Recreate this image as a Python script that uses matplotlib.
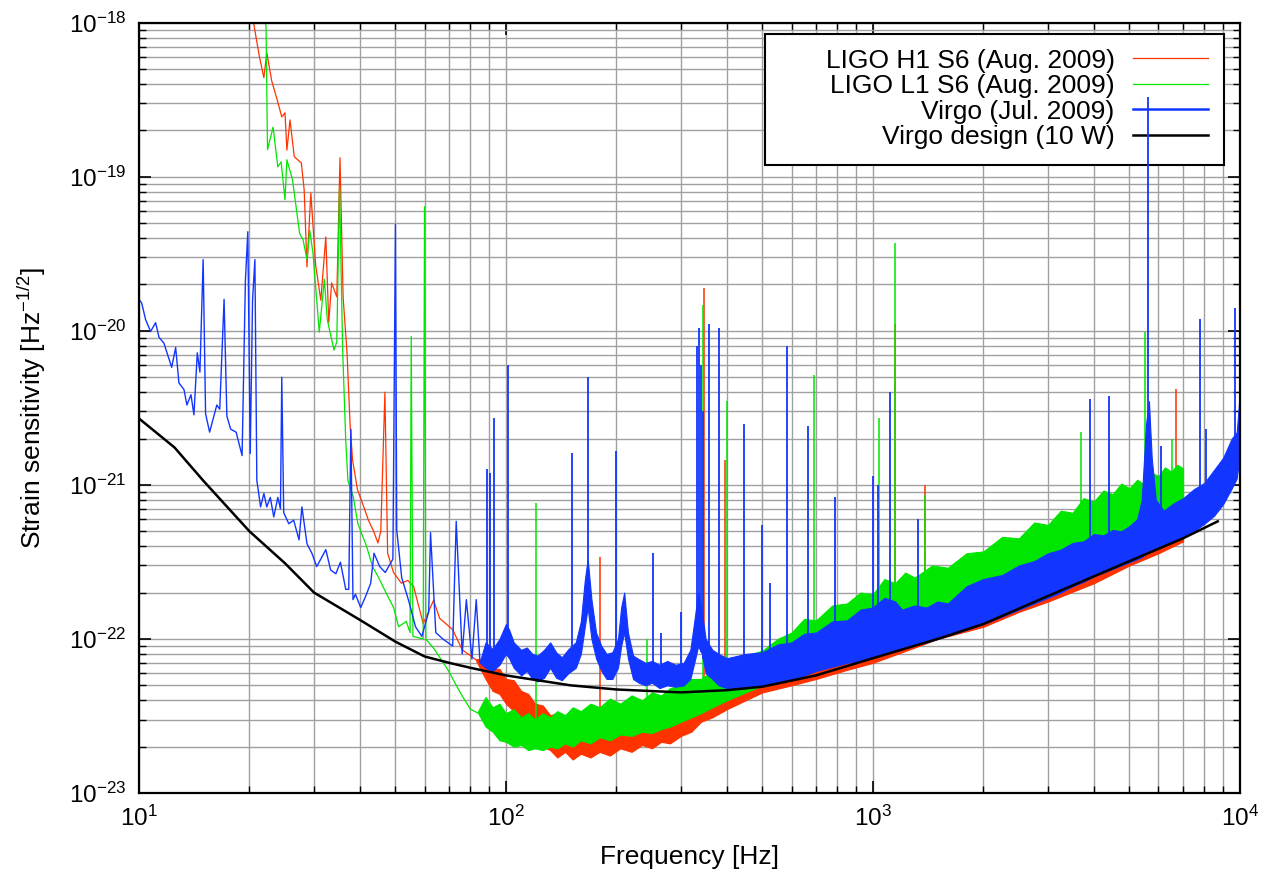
#import module#
import numpy as np
import matplotlib
matplotlib.use("Agg")
import matplotlib.pyplot as plt
from matplotlib.lines import Line2D
from matplotlib.patches import Rectangle

plt.rcParams['font.family'] = ['Liberation Sans', 'DejaVu Sans']
plt.rcParams['mathtext.fontset'] = 'custom'
plt.rcParams['mathtext.rm'] = 'Liberation Sans'
plt.rcParams['mathtext.it'] = 'Liberation Sans:italic'
plt.rcParams['mathtext.bf'] = 'Liberation Sans:bold'

#data#
# LIGO H1, low frequency part (Hz, strain)
h1_f = [20.2, 20.6, 21.3, 21.9, 22.3, 23.0, 23.8, 24.5, 25.0, 25.3, 25.8, 26.5, 27.7, 28.2, 28.7,
        29.4, 30.3, 31.3, 32.3, 32.9, 33.5, 34.6, 35.3, 36.0, 36.9, 37.6, 38.2, 39.4, 40.9, 42.2,
        43.6, 44.8, 45.6, 46.8, 47.6, 49.4, 51.9, 54.0, 56.0, 59.5, 63.5, 66.0, 71.6, 76.0, 80.0, 83.0]
h1_h = [1.3e-18, 9.5e-19, 6.0e-19, 4.4e-19, 6.4e-19, 4.2e-19, 3.16e-19, 2.45e-19, 2.6e-19, 1.49e-19,
        2.34e-19, 1.35e-19, 1.23e-19, 8.2e-20, 2.6e-20, 7.85e-20, 2.68e-20, 1.58e-20, 4.07e-20, 1.13e-20,
        2.05e-20, 1.66e-20, 1.33e-19, 1.66e-20, 7.2e-21, 2.5e-21, 1.45e-21, 9.3e-22, 7.3e-22, 5.9e-22,
        5.0e-22, 4.2e-22, 5.0e-22, 4.0e-21, 3.6e-22, 2.7e-22, 2.3e-22, 2.4e-22, 2.2e-22, 1.26e-22,
        1.78e-22, 1.36e-22, 1.15e-22, 8.5e-23, 7.8e-23, 7.3e-23]
# LIGO H1 noise band (lower / upper edge)
h1_band_f = [83, 88, 92, 96, 100, 105, 110, 115, 120, 126, 132, 138, 145, 152, 160, 170, 180, 192,
             205, 220, 235, 250, 265, 280, 300, 320, 340, 365, 400, 450, 500, 600, 700, 850, 1000,
             1250, 1500, 2000, 2500, 3000, 4000, 5000, 6000, 7000]
h1_band_lo = [7.2e-23, 5.5e-23, 4.6e-23, 4.4e-23, 3.8e-23, 3.4e-23, 3.0e-23, 2.5e-23, 2.4e-23, 2.0e-23,
              1.9e-23, 1.7e-23, 1.85e-23, 1.65e-23, 1.8e-23, 1.7e-23, 1.85e-23, 1.75e-23, 1.95e-23,
              1.85e-23, 2.05e-23, 1.95e-23, 2.15e-23, 2.1e-23, 2.35e-23, 2.5e-23, 2.9e-23, 3.1e-23,
              3.5e-23, 4.0e-23, 4.5e-23, 5.0e-23, 5.5e-23, 6.3e-23, 7.0e-23, 8.5e-23, 1.0e-22, 1.2e-22,
              1.5e-22, 1.75e-22, 2.3e-22, 3.0e-22, 3.6e-22, 4.3e-22]
h1_band_hi = [7.4e-23, 7.4e-23, 6.4e-23, 6.4e-23, 5.5e-23, 5.4e-23, 4.6e-23, 4.4e-23, 3.8e-23, 3.7e-23,
              3.2e-23, 3.3e-23, 2.9e-23, 3.1e-23, 2.8e-23, 3.2e-23, 2.9e-23, 3.3e-23, 3.0e-23, 3.4e-23,
              3.1e-23, 3.5e-23, 3.3e-23, 3.8e-23, 3.9e-23, 4.6e-23, 4.8e-23, 5.6e-23, 6.0e-23, 6.5e-23,
              7.0e-23, 8.0e-23, 9.0e-23, 1.05e-22, 1.2e-22, 1.4e-22, 1.6e-22, 2.1e-22, 2.6e-22, 3.1e-22,
              4.0e-22, 5.0e-22, 6.0e-22, 7.0e-22]
h1_spk_f = [180, 346, 395, 1145, 1390, 6700]
h1_spk_h = [3.4e-22, 1.9e-20, 1.45e-21, 1.1e-20, 1.0e-21, 4.2e-21]

# LIGO L1
l1_f = [21.8, 22.2, 22.4, 23.2, 23.9, 24.4, 25.0, 25.3, 26.2, 27.4, 28.0, 28.7, 29.2, 29.8, 31.0,
        32.0, 32.6, 34.0, 34.6, 35.2, 35.9, 36.6, 37.1, 38.4, 39.5, 41.7, 43.3, 45.0, 47.1, 49.4,
        51.0, 53.5, 54.8, 55.2, 55.8, 59.5, 60.0, 60.5, 64.0, 69.5, 75.0, 80.0, 84.0]
l1_h = [1.3e-18, 9.4e-19, 1.5e-19, 2.1e-19, 1.16e-19, 1.25e-19, 7.1e-20, 1.29e-19, 9.6e-20, 4.3e-20,
        3.9e-20, 2.9e-20, 4.5e-20, 3.2e-20, 9.8e-21, 2.16e-20, 1.18e-20, 7.5e-21, 8.5e-21, 8.6e-20,
        7.5e-21, 1.94e-21, 1.07e-21, 8.3e-22, 5.6e-22, 4.0e-22, 2.95e-22, 2.5e-22, 2.0e-22, 1.6e-22,
        1.2e-22, 1.3e-22, 1.1e-22, 9.2e-21, 1.04e-22, 1.0e-22, 6.4e-20, 1.0e-22, 8.5e-23, 6.3e-23,
        4.5e-23, 3.5e-23, 3.3e-23]
l1_band_f = [84, 88, 92, 96, 100, 105, 110, 115, 120, 126, 132, 138, 145, 152, 160, 170, 180, 192,
             205, 220, 235, 250, 265, 280, 300, 320, 340, 365, 400, 450, 500, 550, 600, 650, 700, 775,
             850, 925, 1000, 1075, 1150, 1225, 1300, 1450, 1600, 1800, 2000, 2250, 2500, 2750, 3000,
             3250, 3500, 3750, 4000, 4250, 4500, 4750, 5000, 5250, 5500, 5750, 6000, 6250, 6500, 6750,
             7000]
l1_band_lo = [3.3e-23, 2.7e-23, 2.5e-23, 2.2e-23, 2.15e-23, 2.0e-23, 2.05e-23, 1.9e-23, 1.95e-23, 1.9e-23,
              2.0e-23, 1.95e-23, 2.1e-23, 2.0e-23, 2.2e-23, 2.1e-23, 2.3e-23, 2.2e-23, 2.4e-23, 2.35e-23,
              2.5e-23, 2.45e-23, 2.6e-23, 2.7e-23, 2.9e-23, 3.1e-23, 3.3e-23, 3.6e-23, 4.0e-23, 4.5e-23,
              5.0e-23, 5.4e-23, 5.8e-23, 6.1e-23, 6.5e-23, 7.0e-23, 7.5e-23, 8.0e-23, 8.5e-23, 9.0e-23,
              9.5e-23, 1.0e-22, 1.05e-22, 1.15e-22, 1.25e-22, 1.4e-22, 1.6e-22, 1.8e-22, 2.0e-22, 2.2e-22,
              2.4e-22, 2.6e-22, 2.8e-22, 3.0e-22, 3.2e-22, 3.4e-22, 3.6e-22, 3.8e-22, 4.0e-22, 4.2e-22,
              4.5e-22, 4.7e-22, 5.0e-22, 5.2e-22, 5.5e-22, 5.8e-22, 6.0e-22]
l1_band_hi = [3.4e-23, 4.2e-23, 3.6e-23, 3.8e-23, 3.3e-23, 3.5e-23, 3.1e-23, 3.3e-23, 3.0e-23, 3.3e-23,
              3.1e-23, 3.4e-23, 3.2e-23, 3.6e-23, 3.4e-23, 3.8e-23, 3.6e-23, 4.1e-23, 3.8e-23, 4.3e-23,
              4.0e-23, 4.5e-23, 4.3e-23, 4.8e-23, 5.0e-23, 5.5e-23, 5.5e-23, 6.2e-23, 6.5e-23, 7.8e-23,
              8.4e-23, 1.0e-22, 1.1e-22, 1.35e-22, 1.32e-22, 1.65e-22, 1.7e-22, 2.0e-22, 1.95e-22, 2.45e-22,
              2.3e-22, 2.7e-22, 2.5e-22, 3.0e-22, 2.9e-22, 3.6e-22, 3.7e-22, 4.6e-22, 4.5e-22, 5.7e-22,
              5.5e-22, 6.8e-22, 6.6e-22, 8.2e-22, 7.8e-22, 9.2e-22, 8.7e-22, 1.02e-21, 9.5e-22, 1.08e-21,
              1.0e-21, 1.2e-21, 1.14e-21, 1.3e-21, 1.22e-21, 1.35e-21, 1.28e-21]
l1_spk_f = [121, 242, 345, 400, 690, 1040, 1150, 1390, 3700, 5500, 6550]
l1_spk_h = [7.6e-22, 1.0e-22, 1.47e-20, 3.5e-21, 5.2e-21, 2.7e-21, 3.7e-20, 8.6e-22, 2.2e-21, 9.8e-21, 2.0e-21]

# Virgo Jul. 2009
v_f = [10.0, 10.17, 10.43, 10.76, 11.1, 11.34, 11.7, 12.28, 12.59, 12.85, 13.27, 13.51, 13.86, 14.12,
       14.42, 14.66, 14.96, 15.19, 15.58, 16.3, 16.6, 17.06, 17.36, 17.78, 18.4, 19.1, 19.5, 19.8, 20.1,
       20.4, 20.7, 20.95, 21.2, 21.45, 21.9, 22.3, 22.8, 23.3, 23.9, 24.3, 24.5, 24.8, 25.6, 26.4, 27.3,
       27.8, 28.7, 29.6, 30.5, 31.3, 32.3, 33.3, 34.4, 35.4, 36.6, 37.3, 37.8, 38.3, 38.9, 40.2, 41.5,
       42.8, 43.7, 45.3, 46.9, 49.2, 50.0, 50.4, 52.0, 54.4, 56.7, 59.0, 61.6, 62.3, 64.4, 67.3, 71.6,
       73.2, 76.0, 78.0, 80.8, 83.0, 85.0]
v_h = [1.6e-20, 1.52e-20, 1.18e-20, 9.9e-21, 1.13e-20, 9.1e-21, 8.3e-21, 5.8e-21, 7.8e-21, 4.6e-21,
       4.15e-21, 3.3e-21, 3.85e-21, 2.85e-21, 7.2e-21, 5.4e-21, 2.9e-20, 2.9e-21, 2.2e-21, 3.3e-21,
       3.1e-21, 1.6e-20, 2.8e-21, 2.3e-21, 2.2e-21, 1.55e-21, 2.1e-20, 4.4e-20, 1.6e-21, 1.6e-20,
       2.9e-20, 1.07e-21, 8.8e-22, 7.2e-22, 8.8e-22, 7.2e-22, 8.3e-22, 6.2e-22, 8.3e-22, 7.0e-22,
       5.0e-21, 6.6e-22, 5.6e-22, 5.9e-22, 4.4e-22, 7.2e-22, 4.15e-22, 3.6e-22, 2.95e-22, 3.3e-22,
       3.8e-22, 2.8e-22, 2.65e-22, 3.15e-22, 2.1e-22, 2.1e-22, 2.3e-21, 1.8e-22, 1.95e-22, 1.6e-22,
       1.9e-22, 2.3e-22, 3.6e-22, 2.95e-22, 2.7e-22, 3.3e-22, 4.9e-20, 5.1e-22, 2.5e-22, 1.75e-22,
       1.2e-22, 1.04e-22, 1.5e-22, 4.9e-22, 1.1e-22, 1.0e-22, 9.0e-23, 5.8e-22, 8.0e-23, 1.8e-22,
       7.4e-23, 1.8e-22, 7.0e-23]
v_band_f = [85, 88, 92, 96, 100, 102, 105, 110, 114, 118, 122, 127, 132, 137, 142, 148, 155, 160, 164,
            167, 171, 176, 182, 188, 195, 202, 206, 210, 215, 222, 230, 240, 250, 262, 275, 290, 305,
            318, 326, 334, 342, 350, 365, 380, 400, 450, 500, 550, 600, 650, 700, 775, 850, 925, 1000,
            1075, 1150, 1200, 1300, 1400, 1500, 1600, 1800, 2000, 2250, 2500, 2750, 3000, 3250, 3500,
            3750, 4000, 4250, 4500, 4750, 5000, 5250, 5400, 5550, 5650, 5750, 5900, 6200, 6600, 7000,
            7500, 8000, 8500, 9000, 9500, 9800, 10000]
v_band_lo = [7.0e-23, 6.5e-23, 6.2e-23, 6.8e-23, 8.0e-23, 7.5e-23, 6.5e-23, 5.8e-23, 6.2e-23, 5.5e-23,
             5.3e-23, 5.6e-23, 6.5e-23, 5.6e-23, 5.4e-23, 6.0e-23, 6.5e-23, 8.0e-23, 1.2e-22, 1.6e-22,
             1.0e-22, 7.5e-23, 6.2e-23, 5.5e-23, 5.5e-23, 6.5e-23, 9.0e-23, 1.1e-22, 7.5e-23, 5.5e-23,
             5.2e-23, 5.0e-23, 5.2e-23, 4.8e-23, 5.0e-23, 4.9e-23, 5.0e-23, 5.5e-23, 7.0e-23, 9.0e-23,
             8.0e-23, 6.0e-23, 5.5e-23, 5.0e-23, 4.8e-23, 4.8e-23, 5.0e-23, 5.2e-23, 5.5e-23, 5.8e-23,
             6.2e-23, 6.6e-23, 7.0e-23, 7.2e-23, 7.5e-23, 8.0e-23, 8.4e-23, 8.8e-23, 9.2e-23, 9.5e-23,
             1.0e-22, 1.05e-22, 1.15e-22, 1.25e-22, 1.4e-22, 1.55e-22, 1.7e-22, 1.85e-22, 2.0e-22, 2.2e-22,
             2.35e-22, 2.55e-22, 2.7e-22, 2.85e-22, 3.0e-22, 3.15e-22, 3.3e-22, 3.4e-22, 3.6e-22, 3.7e-22,
             3.7e-22, 3.9e-22, 4.1e-22, 4.3e-22, 4.6e-22, 5.0e-22, 5.6e-22, 6.3e-22, 7.5e-22, 9.5e-22,
             1.1e-21, 1.6e-21]
v_band_hi = [7.2e-23, 9.5e-23, 8.6e-23, 1.0e-22, 1.25e-22, 1.15e-22, 9.5e-23, 8.5e-23, 8.8e-23, 8.0e-23,
             7.8e-23, 8.5e-23, 9.5e-23, 8.2e-23, 7.6e-23, 8.6e-23, 9.5e-23, 1.3e-22, 2.4e-22, 3.3e-22,
             1.8e-22, 1.1e-22, 9.0e-23, 8.0e-23, 8.2e-23, 1.0e-22, 1.6e-22, 2.0e-22, 1.1e-22, 7.8e-23,
             7.4e-23, 7.0e-23, 7.2e-23, 6.8e-23, 7.2e-23, 6.8e-23, 7.0e-23, 8.5e-23, 1.3e-22, 2.0e-22,
             1.5e-22, 1.0e-22, 8.5e-23, 8.0e-23, 7.5e-23, 8.0e-23, 8.2e-23, 9.2e-23, 9.5e-23, 1.08e-22,
             1.1e-22, 1.3e-22, 1.32e-22, 1.55e-22, 1.6e-22, 1.85e-22, 1.75e-22, 1.55e-22, 1.65e-22, 1.6e-22,
             1.75e-22, 1.7e-22, 2.2e-22, 2.45e-22, 2.6e-22, 3.0e-22, 3.2e-22, 3.6e-22, 3.8e-22, 4.2e-22,
             4.3e-22, 4.8e-22, 4.7e-22, 5.1e-22, 5.0e-22, 5.4e-22, 6.0e-22, 8.0e-22, 2.5e-21, 3.5e-21,
             1.5e-21, 8.0e-22, 6.8e-22, 7.6e-22, 8.2e-22, 9.4e-22, 1.03e-21, 1.25e-21, 1.5e-21, 2.0e-21,
             2.2e-21, 4.0e-21]
v_spk_f = [89, 90.5, 93, 101, 151, 167, 200, 251, 264, 300, 332, 336, 340, 344, 358, 380, 445, 500,
           525, 585, 665, 790, 1000, 1030, 1110, 1330, 3900, 4400, 5620, 6100, 7800, 8100, 9700]
v_spk_h = [1.26e-21, 1.2e-21, 2.7e-21, 6e-21, 1.6e-21, 5e-21, 1.65e-21, 3.6e-22, 1.1e-22, 1.5e-22,
           8e-21, 1.04e-20, 6e-21, 3e-21, 1.1e-20, 1.05e-20, 2.5e-21, 5.5e-22, 2.3e-22, 8e-21, 2.4e-21,
           8.4e-22, 1.15e-21, 1.0e-21, 4e-21, 6e-22, 3.6e-21, 3.8e-21, 3.3e-19, 1.8e-21, 1.2e-20,
           2.3e-21, 1.4e-20]

# Virgo design (10 W)
design_f = [10, 12.5, 15, 20, 25, 30, 40, 50, 60, 70, 80, 100, 150, 200, 300, 400, 500, 700, 1000,
            1500, 2000, 3000, 5000, 7000, 8700]
design_h = [2.7e-21, 1.75e-21, 1.06e-21, 5.0e-22, 3.1e-22, 2.0e-22, 1.33e-22, 9.6e-23, 7.7e-23, 7.0e-23,
            6.5e-23, 5.8e-23, 5.0e-23, 4.7e-23, 4.5e-23, 4.65e-23, 4.9e-23, 5.8e-23, 7.5e-23, 1.0e-22,
            1.25e-22, 1.9e-22, 3.2e-22, 4.5e-22, 5.8e-22]

labels = ["LIGO H1 S6 (Aug. 2009)", "LIGO L1 S6 (Aug. 2009)", "Virgo (Jul. 2009)", "Virgo design (10 W)"]
red = "#ff3300"
green = "#00e600"
blue = "#1236ff"


def band_base(f, bf, blo):
    # foot of a spike sits on the lower edge of the band
    return 10**np.interp(np.log10(f), np.log10(bf), np.log10(blo))


def draw_series(ax, f, h, bf, blo, bhi, sf, sh, color, z, lw=0.9, slw=1.1):
    ax.plot(f, h, color=color, lw=lw, zorder=z)
    ax.fill_between(bf, blo, bhi, color=color, lw=0.8, zorder=z)
    ax.vlines(sf, band_base(sf, bf, blo), sh, color=color, lw=slw, zorder=z)


#drawing plot#
fig = plt.figure(figsize=(12.62, 8.75), dpi=100)
ax = fig.add_axes([0.1101, 0.0937, 0.8724, 0.8803])

draw_series(ax, h1_f, h1_h, h1_band_f, h1_band_lo, h1_band_hi, h1_spk_f, h1_spk_h, red, 2.0)
draw_series(ax, l1_f, l1_h, l1_band_f, l1_band_lo, l1_band_hi, l1_spk_f, l1_spk_h, green, 2.1)
draw_series(ax, v_f, v_h, v_band_f, v_band_lo, v_band_hi, v_spk_f, v_spk_h, blue, 2.2, lw=1.0, slw=1.3)
ax.plot(design_f, design_h, color="black", lw=1.8, zorder=3)

ax.set_xscale("log")
ax.set_yscale("log")
ax.set_xticks([1e1, 1e2, 1e3, 1e4])
ax.set_yticks([1e-23, 1e-22, 1e-21, 1e-20, 1e-19, 1e-18])
ax.set_xlim(10, 1e4)
ax.set_ylim(1e-23, 1e-18)

ax.set_axisbelow(True)
ax.grid(True, which="both", color="#a0a0a0", lw=1.0)
for s in ax.spines.values():
    s.set_linewidth(1.6)
ax.tick_params(which="both", direction="in", top=True, right=True, colors="black")
ax.tick_params(which="major", length=8.5, width=1.2, labelsize=17.5, pad=9)
ax.tick_params(which="minor", length=5, width=1.0)

ax.set_xlabel("Frequency [Hz]", size=19, labelpad=10)
ax.set_ylabel("Strain sensitivity [Hz$^{-1/2}$]", size=19, labelpad=15)

# legend box (gnuplot style: labels right aligned, sample on the right)
ax.add_patch(Rectangle((0.5686, 0.8152), 0.4169, 0.1701, transform=ax.transAxes,
                       facecolor="white", edgecolor="black", lw=1.5, zorder=1.4))
handles = [Line2D([], [], color=red, lw=0.9), Line2D([], [], color=green, lw=0.9),
           Line2D([], [], color=blue, lw=1.8), Line2D([], [], color="black", lw=1.8)]
leg = ax.legend(handles, labels, loc="upper right", bbox_to_anchor=(0.9709, 0.9665),
                frameon=False, markerfirst=False, fontsize=19, borderpad=0, borderaxespad=0,
                handlelength=2.85, handletextpad=0.68, labelspacing=0.06)
leg.set_zorder(1.6)

plt.savefig("out.png", dpi=100)
